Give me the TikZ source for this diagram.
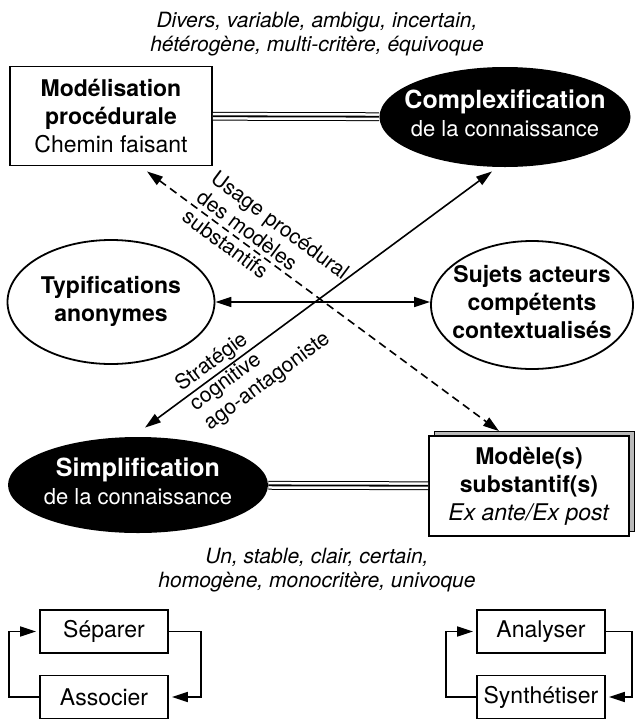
\documentclass[tikz,border=0pt]{standalone}
\usepackage{fontspec}
\setmainfont{TeX Gyre Heros}
\usetikzlibrary{shapes.geometric, arrows.meta, shadows}

% text of an oval, kept from widening the shape
\newcommand{\ovaltext}[1]{\makebox[0pt]{\begin{tabular}{@{}c@{}}#1\end{tabular}}}

\begin{document}
\begin{tikzpicture}[
    x=0.5pt, y=-0.5pt,
    >={Triangle[length=8pt, width=5pt]},
    every node/.style={inner sep=0pt},
    box/.style={rectangle, draw, line width=0.9pt, minimum width=101pt,
                minimum height=49.5pt, align=center, font=\fontsize{11.5}{14}\selectfont},
    dark/.style={ellipse, fill=black, text=white, font=\fontsize{11}{14}\selectfont},
    oval/.style={ellipse, draw, line width=0.9pt, font=\fontsize{11.5}{14}\selectfont\bfseries},
    small/.style={rectangle, draw, line width=0.9pt, minimum width=64pt,
                  minimum height=21.5pt, font=\fontsize{11.5}{14}\selectfont},
    note/.style={align=center, font=\fontsize{10.5}{12}\selectfont\itshape},
    lbl/.style={align=left, font=\fontsize{10.5}{12}\selectfont},
    arr/.style={<->, line width=0.8pt},
    broken/.style={dash pattern=on 4pt off 2.5pt},
    link/.style={double, double distance=3.4pt, line width=0.5pt},
    core/.style={line width=0.9pt},
    turn/.style={->, line width=0.8pt, shorten >=1.5pt},
]
    \useasboundingbox (0,0) rectangle (634,723);

    \node[note] (top) at (317,34) {Divers, variable, ambigu, incertain,\\hétérogène, multi-critère, équivoque};

    \node[box] (proc) at (111,116) {\textbf{Modélisation}\\\textbf{procédurale}\\Chemin faisant};
    \node[dark, minimum width=125.5pt, minimum height=50pt] (cplx) at (505,117)
        {\ovaltext{{\fontsize{12.5}{14}\selectfont\bfseries Complexification}\\de la connaissance}};

    \node[oval, minimum width=103.5pt, minimum height=62pt] (typ) at (111,302)
        {\ovaltext{Typifications\\anonymes}};
    \node[oval, minimum width=101pt, minimum height=64pt] (suj) at (532,305)
        {\ovaltext{Sujets acteurs\\compétents\\contextualisés}};

    \node[dark, minimum width=130pt, minimum height=48pt] (simp) at (138,485)
        {\ovaltext{{\fontsize{12.5}{14}\selectfont\bfseries Simplification}\\de la connaissance}};
    \node[box, minimum width=100pt, minimum height=50pt,
          copy shadow={shadow xshift=2.5pt, shadow yshift=2.5pt, fill=gray!55, draw=black, line width=0.4pt},
          fill=white] (model) at (529,486)
        {\textbf{Modèle(s)}\\\textbf{substantif(s)}\\\textit{Ex ante/Ex post}};

    \node[note] (bottom) at (317,570) {Un, stable, clair, certain,\\homogène, monocritère, univoque};

    % double links
    \draw[link] (proc) -- (cplx);
    \draw[core] (proc) -- (cplx);
    \draw[link] (simp) -- (model);
    \draw[core] (simp) -- (model);

    % crossing arrows
    \coordinate (hub) at (326,302);
    \draw[arr] (typ.east |- hub) -- (suj.west |- hub);
    \draw[arr] ([xshift=3.5pt, yshift=4.5pt]simp.north) -- ([xshift=-6.5pt, yshift=-2pt]cplx.south);
    \draw[arr, broken] ([xshift=18pt, yshift=-2.5pt]proc.south) -- ([xshift=-15pt, yshift=2pt]model.north);

    \node[lbl, rotate=-36.7] (usage) at (266,244) {Usage procédural\\des modèles\\substantifs};
    \node[lbl, rotate=36.5] (strat) at (253,362) {Stratégie\\cognitive\\ago-antagoniste};

    % loops
    \node[small] (sep)   at (104,631.5) {Séparer};
    \node[small] (assoc) at (104,697)   {Associer};
    \node[small] (ana)   at (541,631.5) {Analyser};
    \node[small] (syn)   at (541,697)   {Synthétiser};

    \draw[turn] (sep.east) -- ++(32,0) |- (assoc.east);
    \draw[turn] (assoc.west) -- ++(-30,0) |- (sep.west);
    \draw[turn] (ana.east) -- ++(26,0) |- (syn.east);
    \draw[turn] (syn.west) -- ++(-30,0) |- (ana.west);
\end{tikzpicture}
\end{document}
